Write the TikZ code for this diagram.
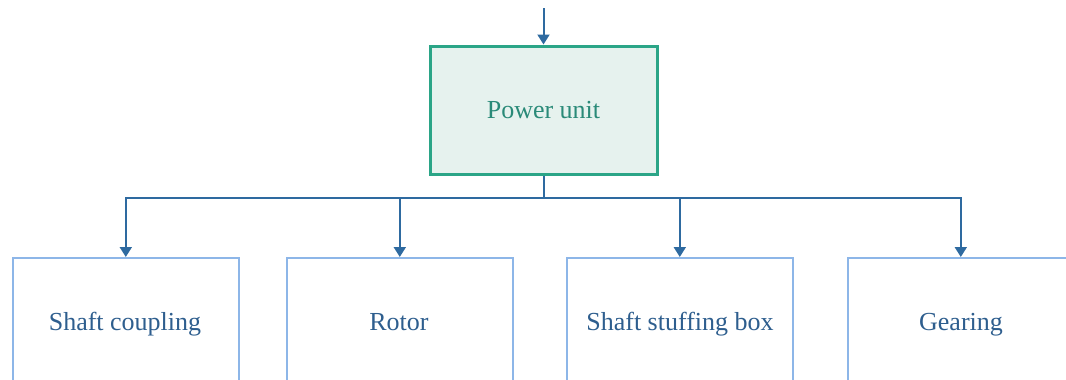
\documentclass[tikz,border=0pt]{standalone}
\usepackage{fontspec}
\newfontfamily\diagfont{Liberation Serif}
\usetikzlibrary{arrows.meta}
\definecolor{topgreen}{HTML}{2BA587}
\definecolor{topfill}{HTML}{E6F2EE}
\definecolor{toptext}{HTML}{2A8A78}
\definecolor{boxblue}{HTML}{8DB6E8}
\definecolor{linkblue}{HTML}{2E6AA0}
\definecolor{textblue}{HTML}{2E5E8E}
\tikzset{
  mainbox/.style={draw=topgreen, line width=3pt, fill=topfill, minimum width=227pt, minimum height=128pt, inner sep=0pt, text=toptext, font=\diagfont\fontsize{26}{30}\selectfont},
  partbox/.style={draw=boxblue, line width=1.6pt, minimum width=226pt, minimum height=160pt, inner sep=0pt},
  parttext/.style={text=textblue, font=\diagfont\fontsize{26}{30}\selectfont, inner sep=0pt, anchor=base},
  link/.style={draw=linkblue, line width=2pt},
  linkarrow/.style={link, -{Triangle[length=10pt,width=12pt]}}
}
\begin{document}
\begin{tikzpicture}[x=1pt,y=-1pt]
\useasboundingbox (0,0) rectangle (1066,380);
\node[mainbox] (pu) at (543.5,110) {Power unit};
\coordinate (in) at (543.5,8);
\draw[linkarrow] (in) -- (pu.north);
% bottom boxes (extend below picture edge)
\node[partbox, anchor=north west] (b1) at (12,257) {};
\node[partbox, anchor=north west] (b2) at (286,257) {};
\node[partbox, anchor=north west] (b3) at (566,257) {};
\node[partbox, anchor=north west] (b4) at (847,257) {};
\node[parttext] (t1) at (125,330) {Shaft coupling};
\node[parttext] (t2) at (399,330) {Rotor};
\node[parttext] (t3) at (680,330) {Shaft stuffing box};
\node[parttext] (t4) at (961,330) {Gearing};
\coordinate (bus) at (543.5,198);
\draw[link] (pu.south) -- (bus);
\draw[linkarrow] (bus) -| (b1.north);
\draw[linkarrow] (bus) -| (b2.north);
\draw[linkarrow] (bus) -| (b3.north);
\draw[linkarrow] (bus) -| (b4.north);
\end{tikzpicture}
\end{document}
